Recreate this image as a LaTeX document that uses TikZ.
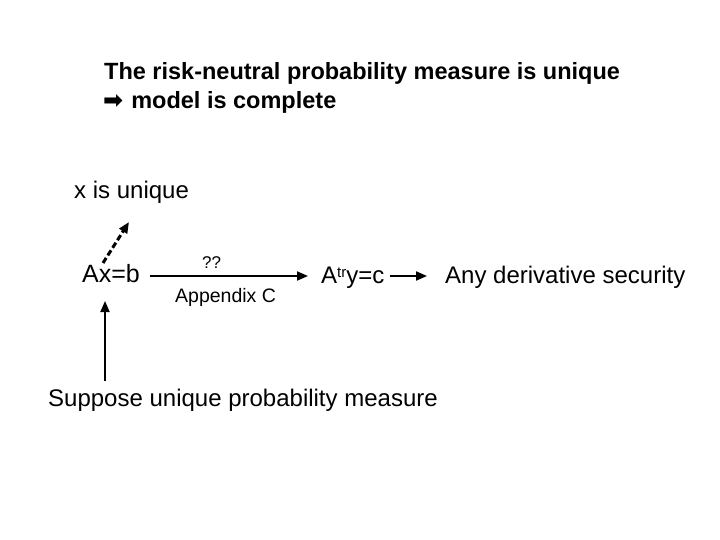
\documentclass[tikz,border=0pt]{standalone}
\usepackage{fontspec}
\setmainfont{Liberation Sans}
\newfontfamily\symfont{DejaVu Sans}
\usetikzlibrary{arrows.meta}
\begin{document}
\begin{tikzpicture}[x=1pt,y=-1pt,
  lbl/.style={anchor=west,inner sep=0pt,font=\fontsize{24}{28}\selectfont},
  small/.style={anchor=west,inner sep=0pt,font=\fontsize{19.5}{23}\selectfont},
  title/.style={anchor=west,inner sep=0pt,font=\bfseries\fontsize{23.5}{28}\selectfont},
  conn/.style={-{Triangle[length=11pt,width=9pt]},line width=2pt}]
\useasboundingbox (0,0) rectangle (720,540);
\node[title] (t1) at (104,73) {The risk-neutral probability measure is unique};
\node[title,anchor=base west] (t2) at (103,109) {{\symfont\fontsize{24}{28}\selectfont ➡}\hspace{8pt}model is complete};
\node[lbl] (xu) at (74,192) {x is unique};
\node[lbl,font=\fontsize{25}{29}\selectfont] (axb) at (82,274) {Ax=b};
\node[small,font=\fontsize{17}{20}\selectfont] (qq) at (202,263) {??};
\node[small] (app) at (175,297) {Appendix C};
\node[lbl,anchor=base west] (aty) at (321,283) {A\raisebox{5.5pt}{\fontsize{15}{18}\selectfont tr}y=c};
\node[lbl] (any) at (445,277) {Any derivative security};
\node[lbl] (sup) at (48,400) {Suppose unique probability measure};
\coordinate (d0) at (103,263);
\coordinate (d1) at (129,222);
\coordinate (h0) at (150,276);
\coordinate (h1) at (308,276);
\coordinate (h2) at (390,276);
\coordinate (h3) at (427,276);
\coordinate (v0) at (105,381);
\coordinate (v1) at (105,301);
\draw[conn,line width=3pt,dash pattern=on 6pt off 3pt] (d0) -- (d1);
\draw[conn] (h0) -- (h1);
\draw[conn] (h2) -- (h3);
\draw[conn] (v0) -- (v1);
\end{tikzpicture}
\end{document}
